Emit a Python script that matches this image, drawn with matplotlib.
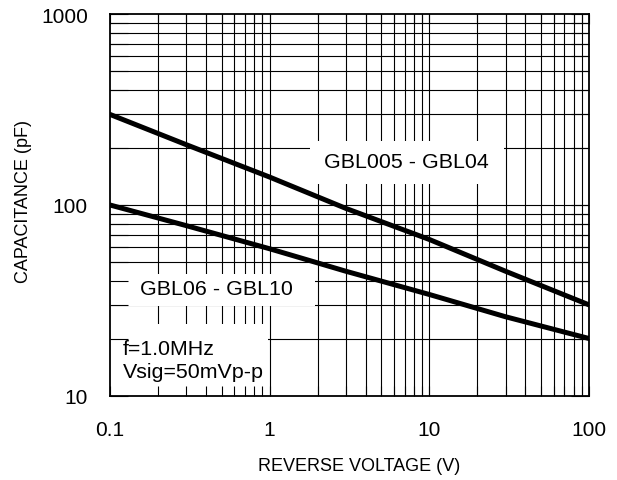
"""Capacitance vs reverse voltage, log-log datasheet style chart."""

import matplotlib
matplotlib.use("Agg")
import matplotlib.pyplot as plt
from matplotlib.patches import Rectangle
from matplotlib.ticker import FuncFormatter, LogLocator, NullFormatter

plt.rcParams["font.family"] = ["Liberation Sans", "DejaVu Sans"]

# Reverse voltage (V) and junction capacitance (pF)
voltage = [0.1, 0.3, 1, 3, 10, 30, 100]
cap_gbl005_04 = [298, 207, 140, 96, 66, 45, 30]
cap_gbl06_10 = [100, 78, 59, 45, 34, 26, 20]

label_upper = "GBL005 - GBL04"
label_lower = "GBL06 - GBL10"
cond_text = "f=1.0MHz\nVsig=50mVp-p"

fig = plt.figure(figsize=(6.17, 4.81), dpi=100)
ax = fig.add_axes([110 / 617, 84 / 481, 479 / 617, 382 / 481])

ax.set_xscale("log")
ax.set_yscale("log")
ax.set_xlim(0.1, 100)
ax.set_ylim(10, 1000)

ax.xaxis.set_major_locator(LogLocator(base=10))
ax.xaxis.set_minor_locator(LogLocator(base=10, subs=range(2, 10)))
ax.yaxis.set_major_locator(LogLocator(base=10))
ax.yaxis.set_minor_locator(LogLocator(base=10, subs=range(2, 10)))
fmt = FuncFormatter(lambda v, _: f"{v:g}")
ax.xaxis.set_major_formatter(fmt)
ax.yaxis.set_major_formatter(fmt)
ax.xaxis.set_minor_formatter(NullFormatter())
ax.yaxis.set_minor_formatter(NullFormatter())

# grid drawn by hand so the label boxes can hide it while ticks stay on top
for v in list(ax.xaxis.get_majorticklocs()) + list(ax.xaxis.get_minorticklocs()):
    if 0.1 < v < 100:
        ax.axvline(v, color="black", lw=0.8, zorder=0.5)
for v in list(ax.yaxis.get_majorticklocs()) + list(ax.yaxis.get_minorticklocs()):
    if 10 < v < 1000:
        ax.axhline(v, color="black", lw=0.8, zorder=0.5)

# white label boxes
for x0, y0, w, h in [(0.4175, 0.555, 0.405, 0.113),
                     (0.0, 0.236, 0.428, 0.084),
                     (0.0, 0.0, 0.33, 0.188)]:
    ax.add_patch(Rectangle((x0, y0), w, h, transform=ax.transAxes,
                           facecolor="white", edgecolor="none", zorder=1))

ax.set_axisbelow(False)
ax.tick_params(which="both", direction="in", top=True, right=True,
               colors="black", width=0.8)
ax.tick_params(axis="x", which="both", length=7, pad=17, labelsize=15)
ax.tick_params(axis="y", which="both", length=13, pad=16, labelsize=15)

ax.plot(voltage, cap_gbl005_04, color="black", lw=3.6,
        solid_capstyle="round", solid_joinstyle="round", zorder=3)
ax.plot(voltage, cap_gbl06_10, color="black", lw=3.6,
        solid_capstyle="round", solid_joinstyle="round", zorder=3)

ax.text(0.619, 0.614, label_upper, transform=ax.transAxes, fontsize=15.4,
        ha="center", va="center", zorder=4)
ax.text(0.223, 0.281, label_lower, transform=ax.transAxes, fontsize=15.4,
        ha="center", va="center", zorder=4)
ax.text(0.027, 0.094, cond_text, transform=ax.transAxes, fontsize=15.4,
        ha="left", va="center", linespacing=1.3, zorder=4)

for sp in ax.spines.values():
    sp.set_linewidth(1.3)
    sp.set_zorder(5)

ax.set_xlabel("REVERSE VOLTAGE (V)", fontsize=13)
ax.set_ylabel("CAPACITANCE (pF)", fontsize=13)
ax.xaxis.set_label_coords(0.52, -0.16)
ax.yaxis.set_label_coords(-0.163, 0.513)

fig.savefig("out.png", dpi=100)
plt.close(fig)
